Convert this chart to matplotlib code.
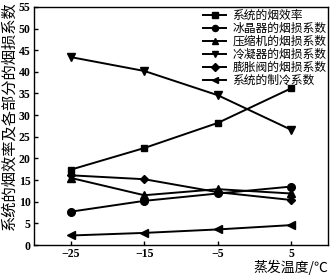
import matplotlib
matplotlib.use("Agg")
import matplotlib.pyplot as plt

TEMPS = [-25, -15, -5, 5]
EXERGY_EFF = [17.4, 22.4, 28.2, 36.2]
ICE_LOSS = [7.7, 10.2, 11.9, 13.5]
COMP_LOSS = [15.5, 11.5, 12.9, 11.9]
COND_LOSS = [43.4, 40.2, 34.6, 26.6]
VALVE_LOSS = [16.1, 15.2, 12.2, 10.4]
COP = [2.2, 2.8, 3.6, 4.6]

LABELS = ["系统的烟效率", "冰晶器的烟损系数", "压缩机的烟损系数",
          "冷凝器的烟损系数", "膨胀阀的烟损系数", "系统的制冷系数"]
MARKERS = ["s", "o", "^", "v", "D", "<"]
SIZES = [5, 5.5, 5.5, 5.5, 4.5, 5.5]

CJK = ["Noto Sans CJK SC", "DejaVu Sans"]

fig = plt.figure(figsize=(3.3, 2.75), dpi=100)
ax = fig.add_axes([0.103, 0.109, 0.891, 0.866])

series = [EXERGY_EFF, ICE_LOSS, COMP_LOSS, COND_LOSS, VALVE_LOSS, COP]
for vals, lab, mk, ms in zip(series, LABELS, MARKERS, SIZES):
    ax.plot(TEMPS, vals, color="black", lw=1.4, marker=mk, ms=ms, label=lab)

ax.set_xlim(-30, 10)
ax.set_ylim(0, 55)
ax.set_xticks(TEMPS)
ax.set_yticks(range(0, 56, 5))
ax.tick_params(direction="in", length=3, width=1, pad=2.5)
for lbl in ax.get_xticklabels() + ax.get_yticklabels():
    lbl.set_fontfamily("Liberation Serif")
    lbl.set_fontweight("bold")
    lbl.set_fontsize(8.5)
for sp in ax.spines.values():
    sp.set_linewidth(1)

fig.text(0.994, 0.0, "蒸发温度/℃", family=CJK, fontsize=10, ha="right", va="bottom")
fig.text(0.0, 0.995, "系统的烟效率及各部分的烟损系数", family=CJK, fontsize=11,
         rotation=90, ha="left", va="top")

leg = ax.legend(loc="upper right", frameon=False, prop={"family": CJK, "size": 8.5},
                handlelength=2.0, handletextpad=0.5, labelspacing=0.0,
                borderaxespad=0.05, borderpad=0.1, markerscale=0.8)

fig.savefig("out.png", dpi=100)
